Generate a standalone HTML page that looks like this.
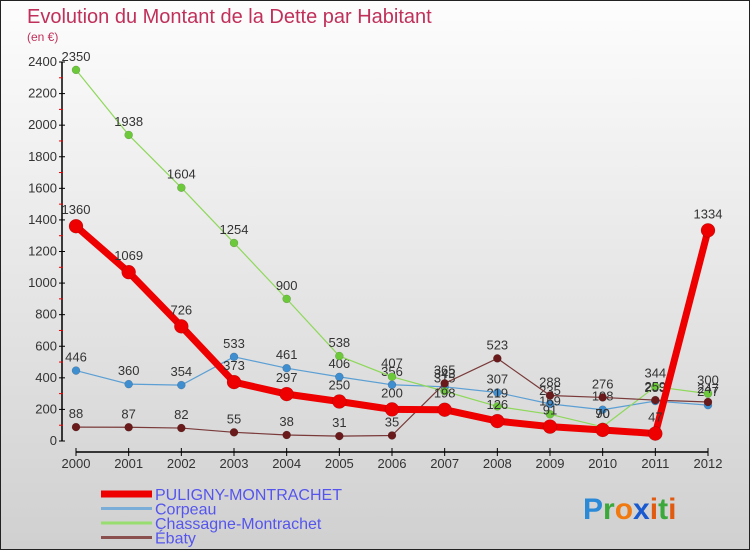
<!DOCTYPE html>
<html><head><meta charset="utf-8"><style>
body{margin:0;}
#wrap{width:750px;height:550px;position:relative;overflow:hidden;background:linear-gradient(#fdfdfd,#d0d0d0);box-sizing:border-box;border:1px solid #222;}
svg text{font-family:"Liberation Sans",sans-serif;}
</style></head><body>
<div id="wrap">
<svg id="c" width="750" height="550"></svg>
</div>
<script>
const years=[2000,2001,2002,2003,2004,2005,2006,2007,2008,2009,2010,2011,2012];
const puligny=[1360,1069,726,373,297,250,200,198,126,91,70,47,1334];
const corpeau=[446,360,354,533,461,406,356,343,307,235,198,253,227];
const chassagne=[2350,1938,1604,1254,900,538,407,315,219,169,90,344,300];
const ebaty=[88,87,82,55,38,31,35,365,523,288,276,259,247];
const yTicks=[0,200,400,600,800,1000,1200,1400,1600,1800,2000,2200,2400];
const seriesNames=["PULIGNY-MONTRACHET","Corpeau","Chassagne-Montrachet","Ébaty"];

const svg=document.getElementById('c');
const NS='http://www.w3.org/2000/svg';
function X(i){return 75+i*(707-75)/(years.length-1);}
function Y(v){return 440-v*(440-61)/2400;}
function mk(t,a,p){const e=document.createElementNS(NS,t);for(const k in a)e.setAttribute(k,a[k]);(p||svg).appendChild(e);return e;}

let t=mk('text',{x:26,y:22,'font-size':20,fill:'#c0305a'});t.textContent='Evolution du Montant de la Dette par Habitant';


t=mk('text',{x:26,y:40,'font-size':12,fill:'#c0305a'});t.textContent='(en €)';



let ax=mk('line',{x1:61,y1:61,x2:61,y2:440,stroke:'#000','stroke-width':1.5});


yTicks.forEach((v,i)=>{
  mk('line',{x1:58,x2:64,y1:Y(v),y2:Y(v),stroke:'#000'});
  if(i<yTicks.length-1) mk('line',{x1:58,x2:62,y1:Y(v+100),y2:Y(v+100),stroke:'#e00'});
  const l=mk('text',{x:56,y:Y(v)+4,'font-size':13,fill:'#333','text-anchor':'end'});l.textContent=v;
  
  
});
ax=mk('line',{x1:75,y1:451,x2:707,y2:451,stroke:'#000','stroke-width':1.5});


years.forEach((y,i)=>{
  mk('line',{x1:X(i),x2:X(i),y1:447,y2:455,stroke:'#000'});
  const l=mk('text',{x:X(i),y:467,'font-size':13,fill:'#333','text-anchor':'middle'});l.textContent=y;
  
  
});

function series(data,color,w,r,mcolor,name){
  const g=mk('g',{});
  
  
  mk('polyline',{points:data.map((v,i)=>X(i)+','+Y(v)).join(' '),fill:'none',stroke:color,'stroke-width':w,'stroke-linejoin':'round'},g);
  data.forEach((v,i)=>{
    const c=mk('circle',{cx:X(i),cy:Y(v),r:r,fill:mcolor,stroke:'rgba(0,0,0,0.25)','stroke-width':0.5},g);
    
    
    const l=mk('text',{x:X(i),y:Y(v)-9-(r>5?3:0),'font-size':13,fill:'#333','text-anchor':'middle'},g);l.textContent=v;
    
    
  });
}
series(corpeau,'#5b9fd4',1.2,4,'#3f8ed0','corpeau');
series(chassagne,'#8ed85a',1.2,4,'#6cc93a','chassagne');
series(ebaty,'#7a3a3a',1.2,4,'#6a1a1a','ebaty');
series(puligny,'#ee0000',7,7,'#ee0000','puligny');

const lc=[['#ee0000',7],['#7aaed8',3],['#98dd70',3],['#8a5050',3]];
seriesNames.forEach((n,i)=>{
  const y=493+i*14.5;
  const g=mk('g',{});
  
  
  mk('line',{x1:100,x2:151,y1:y,y2:y,stroke:lc[i][0],'stroke-width':lc[i][1]},g);
  const l=mk('text',{x:154,y:y+6,'font-size':16,fill:'#5555ee'},g);l.textContent=n;
});
const logo=mk('text',{x:582,y:518,'font-size':30,'font-weight':'bold'});


[['P','#2a8ad8'],['r','#3aa83a'],['o','#f07a10'],['x','#1a5ad0'],['i','#e05a10'],['t','#3aa83a'],['i','#e05a10']].forEach(([c,f])=>{const s=mk('tspan',{fill:f},logo);s.textContent=c;});
</script>
</body></html>
